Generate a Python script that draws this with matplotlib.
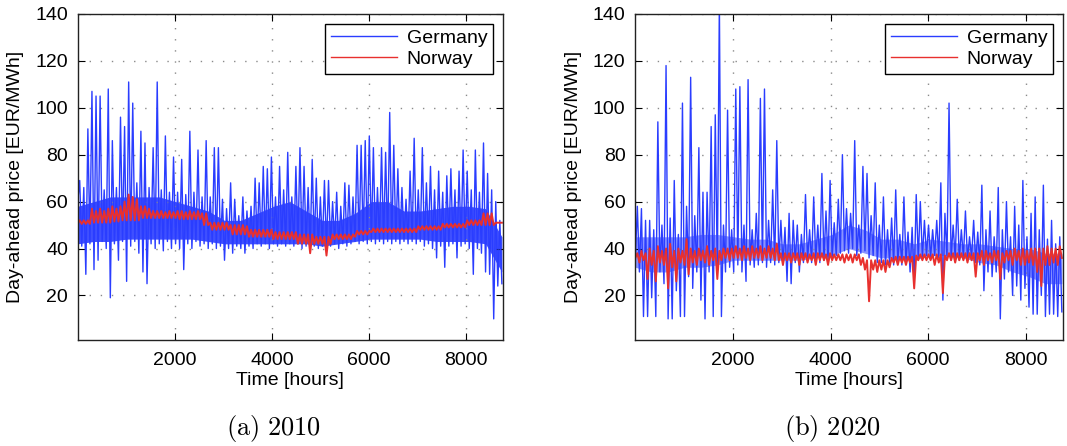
import numpy as np
import matplotlib
matplotlib.use('Agg')
import matplotlib.pyplot as plt

plt.rcParams['font.family'] = ['Liberation Sans', 'DejaVu Sans']
plt.rcParams['mathtext.fontset'] = 'cm'

# prices, one value every 42 hours (lows / highs alternate)
step_hours = 42

de_2010 = [60, 69, 41, 66, 29, 91, 42, 107, 31, 105,
           35, 105, 43, 65, 40, 108, 19, 86, 42, 66,
           35, 96, 43, 92, 26, 111, 41, 102, 43, 68,
           38, 90, 30, 85, 25, 66, 42, 83, 40, 111,
           42, 65, 39, 88, 43, 64, 40, 79, 42, 64,
           40, 78, 31, 63, 42, 90, 40, 64, 43, 82,
           41, 62, 42, 86, 40, 62, 42, 83, 40, 83,
           41, 61, 35, 57, 40, 68, 38, 61, 41, 54,
           40, 62, 38, 56, 41, 58, 40, 70, 42, 68,
           41, 75, 42, 74, 40, 79, 42, 62, 41, 75,
           42, 65, 41, 81, 42, 62, 41, 75, 42, 83,
           40, 75, 41, 66, 40, 78, 41, 70, 40, 62,
           41, 69, 40, 69, 41, 60, 42, 64, 40, 58,
           42, 68, 41, 67, 42, 62, 43, 84, 42, 84,
           43, 86, 42, 88, 43, 83, 42, 66, 43, 83,
           42, 81, 43, 98, 42, 84, 43, 74, 42, 66,
           43, 61, 42, 73, 43, 87, 42, 65, 43, 83,
           41, 68, 42, 75, 40, 65, 36, 73, 41, 64,
           32, 71, 41, 74, 42, 65, 36, 73, 41, 82,
           42, 73, 40, 65, 29, 82, 40, 64, 38, 85,
           30, 72, 29, 65, 10, 60, 24, 52, 25]

no_2010 = [50.5, 52, 50.5, 52, 50.5, 52, 50.5, 57, 51, 56,
           51, 57, 51, 56, 51, 57, 51, 58, 51.5, 57,
           51.5, 58, 52, 60, 52, 63, 52, 62, 52, 61,
           52, 58, 53, 58, 53, 57, 53, 56, 53, 56,
           53, 56, 53, 55.5, 53, 56, 53, 55.5, 53, 56,
           52.5, 56, 52.5, 55.5, 52.5, 56, 52.5, 55.5, 52.5, 56,
           52.5, 55, 50, 55, 50, 51, 48, 51, 48, 51,
           48, 51, 48, 51, 48, 50, 46, 50, 46, 50,
           46, 50, 46, 49.5, 45, 48, 45, 48, 45, 48,
           45, 48, 45, 48, 45, 48, 44, 47, 44, 47,
           44, 47, 44, 47, 44, 47, 44, 47, 42, 46,
           42, 46, 42, 46, 38, 46, 42, 45, 42, 45,
           42, 45, 37, 45, 42, 46, 44, 46, 44, 46,
           44, 46, 44, 46, 44, 46, 45, 47.5, 46, 47.5,
           46, 47.5, 46, 47.5, 47, 48.5, 47, 48.5, 47, 48.5,
           47, 48.5, 47, 48.5, 47, 48.5, 47, 48.5, 47, 48.5,
           47, 48.5, 47, 48.5, 47, 48.5, 47, 49.5, 48, 49.5,
           48, 49.5, 48, 49.5, 48, 49.5, 48, 49.5, 48, 50.5,
           49, 50.5, 49, 50.5, 49, 50.5, 49, 50.5, 49, 50.5,
           49, 52, 50, 52, 50, 52, 50, 52, 50, 55,
           50, 55, 50, 55, 50, 51, 51, 51, 51]

de_2020 = [35, 58, 30, 57, 11, 52, 11, 52, 19, 48,
           11, 94, 30, 50, 25, 118, 10, 53, 10, 69,
           22, 46, 11, 102, 11, 58, 28, 113, 23, 54,
           30, 83, 18, 64, 10, 64, 30, 92, 11, 97,
           30, 145, 11, 50, 30, 99, 32, 48, 30, 108,
           33, 109, 30, 50, 26, 112, 33, 48, 32, 55,
           33, 104, 34, 108, 32, 52, 34, 65, 33, 86,
           34, 52, 33, 49, 26, 55, 25, 52, 34, 50,
           30, 46, 34, 63, 35, 48, 34, 62, 35, 50,
           34, 72, 35, 56, 34, 69, 36, 51, 37, 61,
           38, 80, 39, 57, 38, 55, 40, 86, 37, 50,
           38, 75, 39, 72, 36, 54, 37, 68, 34, 50,
           34, 62, 33, 48, 34, 53, 33, 65, 34, 46,
           33, 62, 34, 47, 30, 49, 25, 63, 35, 60,
           36, 52, 37, 50, 36, 48, 37, 52, 36, 68,
           18, 55, 36, 102, 35, 50, 36, 61, 35, 48,
           36, 56, 35, 45, 36, 52, 34, 47, 33, 67,
           22, 48, 30, 56, 28, 45, 30, 66, 10, 48,
           27, 60, 30, 45, 20, 58, 24, 50, 18, 69,
           23, 45, 15, 55, 12, 62, 12, 48, 20, 67,
           11, 44, 12, 52, 12, 42, 11, 45, 13]

no_2020 = [36, 38, 34, 39, 35, 38, 27, 40, 33, 39,
           26, 41, 34, 39, 33, 40, 23, 42, 32, 39,
           26, 40, 34, 39, 33, 44, 29, 40, 34, 39,
           33, 40, 35, 39, 34, 41, 33, 39, 35, 40,
           27, 39, 35, 40, 36, 40, 35, 40, 36, 41,
           36, 40, 35, 41, 36, 40, 35, 41, 36, 40,
           36, 41, 35, 40, 36, 41, 36, 40, 35, 42,
           35, 38, 33, 38, 35, 38, 34, 38, 35, 38,
           33, 38, 35, 38, 34, 37.5, 35, 38, 33, 38,
           35, 38, 35, 37.5, 33, 38, 35, 37.5, 35, 37.5,
           35, 37.5, 34, 37.5, 35, 37.5, 34, 37.5, 35, 37.5,
           33, 36, 31, 35, 17.5, 35, 31, 35, 30, 35,
           31, 35, 30, 35, 32, 36, 34, 36.5, 33, 36.5,
           34, 36.5, 33, 36.5, 34, 36.5, 23, 37, 35, 37.5,
           35, 37.5, 35, 37.5, 35, 37.5, 33, 37.5, 34, 37.5,
           21, 37, 35, 38, 35, 38, 34, 38, 35, 38,
           35, 38, 34, 38, 35, 38, 28, 38, 35, 39,
           33, 39, 35, 38, 34, 39, 35, 39, 27, 38,
           34, 39, 35, 39, 33, 40, 35, 39, 33, 40,
           33, 39, 34, 40, 33, 40, 30, 40, 24, 40,
           33, 41, 33, 40, 34, 40, 33, 41, 36]

# dense core of the German hourly band, every 336 hours (two weeks)
core_hours = 336
de_2010_core_lo = [42, 43, 43, 44, 44, 44, 44, 44, 43, 42, 42, 42, 42, 42,
                   42, 41, 42, 43, 44, 44, 44, 44, 43, 43, 43, 42, 30]
de_2010_core_hi = [58, 60, 62, 62, 62, 62, 60, 58, 56, 52, 52, 55, 58, 60,
                   56, 52, 52, 55, 60, 60, 56, 56, 57, 58, 58, 57, 45]
de_2020_core_lo = [32, 30, 30, 32, 32, 33, 35, 35, 35, 35, 35, 36, 37, 40,
                   38, 36, 36, 35, 37, 37, 36, 34, 33, 30, 28, 25, 25]
de_2020_core_hi = [45, 45, 45, 45, 46, 46, 45, 44, 44, 42, 42, 44, 46, 50,
                   48, 44, 44, 42, 44, 43, 42, 42, 41, 40, 40, 38, 38]

captions = ['(a)\\ 2010', '(b)\\ 2020']
xticks = [2000, 4000, 6000, 8000]
yticks = [20, 40, 60, 80, 100, 120, 140]

blue = '#2a3dff'
red = '#e8302e'

fig = plt.figure(figsize=(10.67, 4.46), dpi=100)
ax1 = fig.add_axes([0.0728, 0.2377, 0.3986, 0.731])
ax2 = fig.add_axes([0.5954, 0.2377, 0.4008, 0.731])

panels = [(ax1, de_2010, no_2010, de_2010_core_lo, de_2010_core_hi, 0.9),
          (ax2, de_2020, no_2020, de_2020_core_lo, de_2020_core_hi, 0.55)]
for k, (ax, de, no, lo, hi, a) in enumerate(panels):
    t = np.arange(len(de)) * step_hours + 1
    tc = np.arange(len(lo)) * core_hours + 1
    ax.fill_between(tc, lo, hi, color=blue, alpha=a, lw=0)
    ax.plot(t, de, color=blue, lw=1.0, label='Germany')
    ax.plot(t, no, color=red, lw=1.4, label='Norway')
    ax.set_xlim(1, 8760)
    ax.set_ylim(1, 140)
    ax.set_xticks(xticks)
    ax.set_yticks(yticks)
    ax.tick_params(direction='in', top=True, right=True, length=5,
                   labelsize=14, pad=7)
    ax.tick_params(axis='x', pad=9)
    ax.grid(True, color='#8a8a8a', linestyle=(0, (1, 7)), lw=1.0)
    for s in ax.spines.values():
        s.set_linewidth(1.0)
        s.set_color('#222222')
    ax.set_xlabel('Time [hours]', fontsize=14, labelpad=2)
    ax.set_ylabel('Day-ahead price [EUR/MWh]', fontsize=14, labelpad=8)
    leg = ax.legend(loc='upper right', bbox_to_anchor=(0.977, 0.97),
                    borderaxespad=0, fontsize=14, handlelength=3.4,
                    fancybox=False, framealpha=1, edgecolor='black',
                    borderpad=0.3, labelspacing=0.15, handletextpad=0.5)
    leg.get_frame().set_linewidth(1.0)
    for line in leg.get_lines():
        line.set_linewidth(1.0)
    fig.text([0.256, 0.78][k], 0.04, '$\\mathrm{' + captions[k] + '}$',
             fontsize=19, ha='center', va='center')

fig.savefig('out.png', dpi=100)
